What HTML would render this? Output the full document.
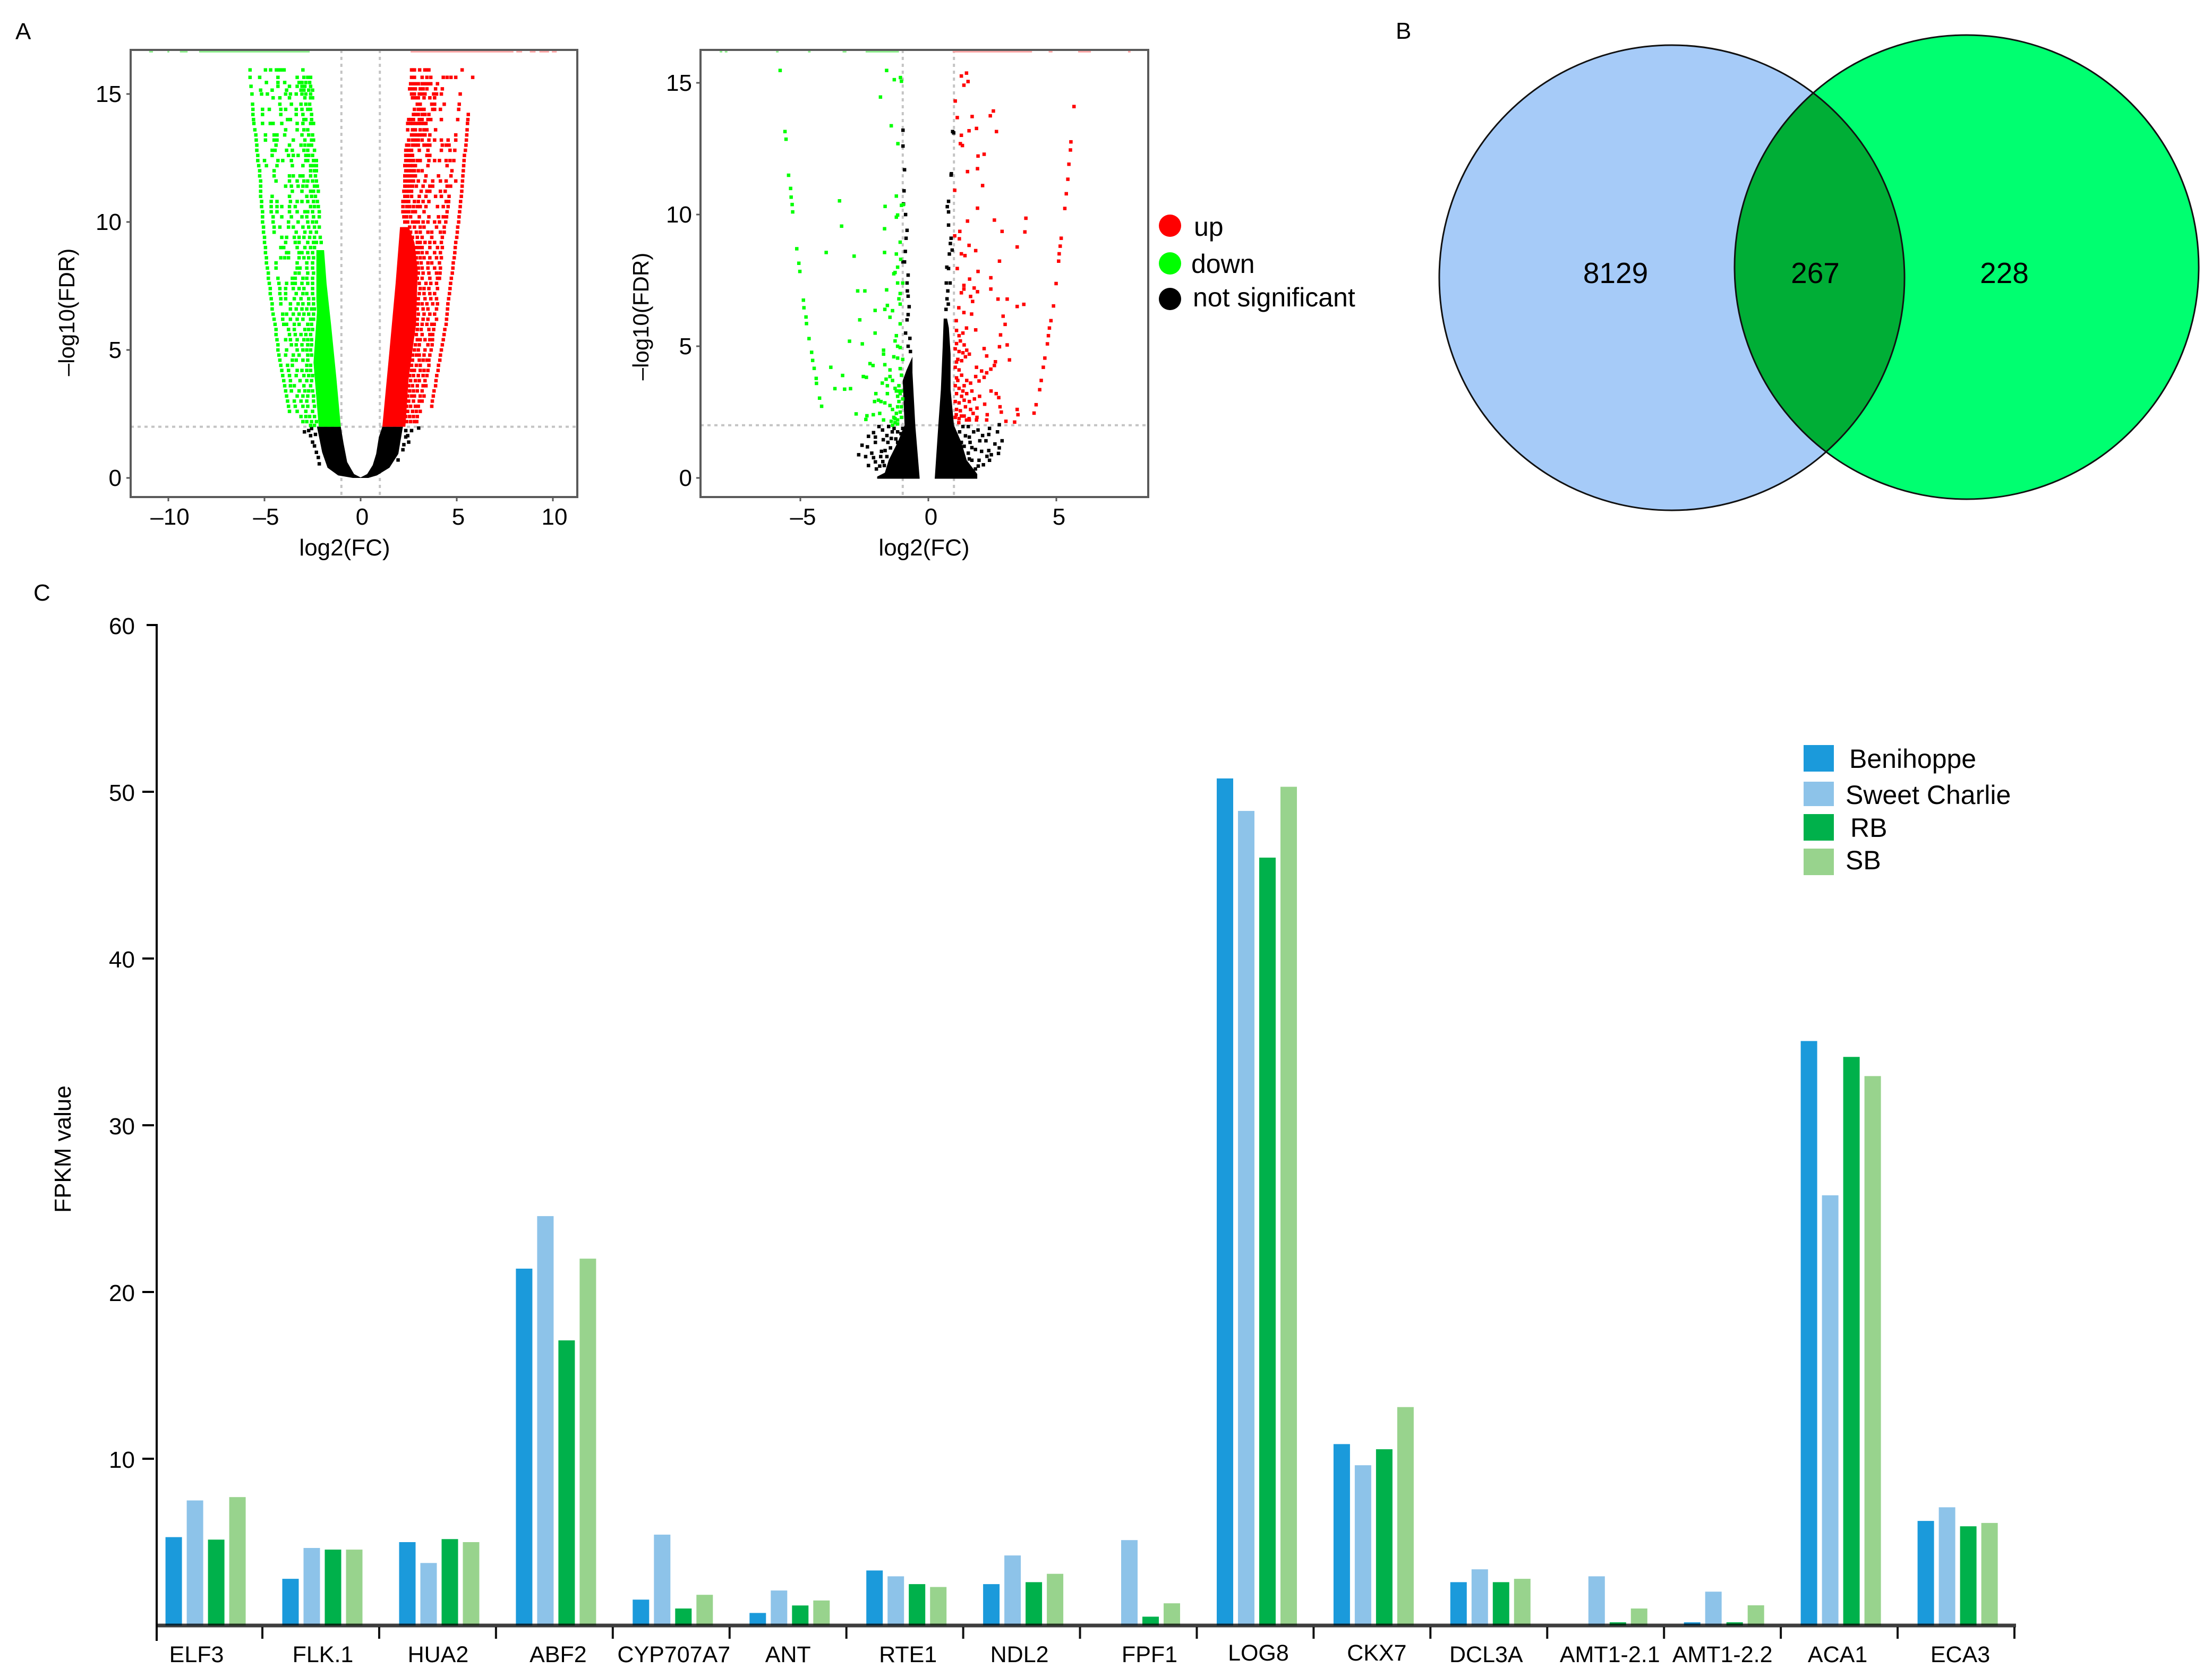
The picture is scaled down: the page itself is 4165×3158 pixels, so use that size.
<!DOCTYPE html>
<html lang="en">
<head>
<meta charset="utf-8">
<title>Volcano plots, Venn diagram and FPKM bar chart</title>
<style>
html,body{margin:0;padding:0;background:#fff;}
svg{display:block;font-family:"Liberation Sans",sans-serif;fill:#000;}
</style>
</head>
<body>
<svg id="fig" xmlns="http://www.w3.org/2000/svg" width="4165" height="3158" viewBox="0 0 4165 3158">
  <rect x="0" y="0" width="4165" height="3158" fill="#ffffff"/>
  <text x="29" y="74" font-size="44">A</text>
  <text x="2628" y="73" font-size="44">B</text>
  <text x="63" y="1131" font-size="44">C</text>

  <g id="volcanoLeft"></g>
  <g id="volcanoRight"></g>

  <g>
    <circle cx="2203" cy="425" r="21" fill="#ff0000"/>
    <text x="2248" y="444" font-size="50">up</text>
    <circle cx="2203" cy="496" r="21" fill="#00ff00"/>
    <text x="2243" y="514" font-size="50">down</text>
    <circle cx="2203" cy="563" r="21" fill="#000000"/>
    <text x="2246" y="577" font-size="50">not significant</text>
  </g>

  <g>
    <defs>
      <clipPath id="vennClip"><circle cx="3148" cy="523" r="438"/></clipPath>
    </defs>
    <circle cx="3148" cy="523" r="438" fill="#a6cbf8"/>
    <circle cx="3703" cy="503" r="437" fill="#00ff70"/>
    <circle cx="3703" cy="503" r="437" fill="#00ae36" clip-path="url(#vennClip)"/>
    <circle cx="3148" cy="523" r="438" fill="none" stroke="#111" stroke-width="3"/>
    <circle cx="3703" cy="503" r="437" fill="none" stroke="#111" stroke-width="3"/>
    <text x="3042" y="533" font-size="55" text-anchor="middle">8129</text>
    <text x="3418" y="533" font-size="55" text-anchor="middle">267</text>
    <text x="3774" y="533" font-size="55" text-anchor="middle">228</text>
  </g>

  <g id="barChart"></g>
</svg>

<script>
/* ---------- Bar chart data ---------- */
const barCategories = ["ELF3","FLK.1","HUA2","ABF2","CYP707A7","ANT","RTE1","NDL2","FPF1","LOG8","CKX7","DCL3A","AMT1-2.1","AMT1-2.2","ACA1","ECA3"];
const seriesNames = ["Benihoppe","Sweet Charlie","RB","SB"];
const benihoppeValues = [5.3,2.8,5.0,21.4,1.55,0.75,3.3,2.48,0,50.8,10.88,2.6,0,0.19,35.05,6.27];
const sweetCharlieValues = [7.5,4.65,3.75,24.55,5.45,2.1,2.95,4.2,5.12,48.85,9.61,3.37,2.95,2.03,25.8,7.09];
const rbValues = [5.15,4.55,5.18,17.1,1.02,1.2,2.48,2.6,0.53,46.05,10.57,2.6,0.19,0.19,34.1,5.95];
const sbValues = [7.7,4.55,5.0,22.0,1.84,1.5,2.31,3.1,1.33,50.3,13.1,2.8,1.02,1.21,32.95,6.15];
const barYTicks = [10,20,30,40,50,60];

/* ---------- Left volcano data (log2FC, -log10FDR) ---------- */
const leftXTicks = [-10,-5,0,5,10];
const leftYTicks = [0,5,10,15];
const leftBlackArea = [[-1.03,2],[-0.89,1.36],[-0.7,0.62],[-0.34,0.15],[0,0.02],[0.34,0.15],[0.63,0.5],[0.81,0.94],[0.95,1.6],[1.13,2],[2.2,2],[1.96,0.94],[1.5,0.4],[0.85,0.1],[0.4,0],[-0.4,0],[-1.17,0.1],[-1.72,0.4],[-2,1],[-2.27,2]];
const leftDownSolid = [[-1.03,2],[-1.26,3.9],[-1.54,6],[-1.77,7.6],[-1.9,8.9],[-2.3,8.9],[-2.3,7],[-2.27,6.5],[-2.45,4.5],[-2.18,2]];
const leftUpSolid = [[1.13,2],[1.5,4.96],[1.82,7.6],[2.05,9.8],[2.5,9.8],[2.8,9.2],[2.97,8.1],[2.88,6],[2.5,3.9],[2.33,2]];
/* rows of points: [-log10FDR, [log2FC, ...]] */
const leftDownRows = [
[15.94,[-5.75,-4.95,-4.68,-4.38,-4.28,-4.18,-4.08,-3.98,-3]],
[15.65,[-5.75,-5.25,-4.3,-3.3,-2.95,-2.75,-2.6]],
[15.45,[-4.9,-4.3,-3.95,-3.2,-3.05,-2.85,-2.65]],
[15.3,[-5.7,-4.3,-3.7,-3.3,-3.05,-2.9,-2.6]],
[15.15,[-5.2,-4.6,-3.85,-3.1,-2.95,-2.7,-2.5]],
[15,[-5.65,-5.15,-4.85,-3.9,-3.65,-3.35,-3.05,-2.85,-2.6]],
[14.85,[-4.55,-4.2,-3.7,-2.9,-2.6,-2.5]],
[14.6,[-5.62,-4.2,-3.6,-3.1,-2.85,-2.65]],
[14.4,[-5.6,-5.1,-4.75,-4.15,-3.9,-3.35,-3.05,-2.75,-2.6]],
[14.2,[-5.6,-5.1,-4.15,-3.35,-3,-2.55]],
[14,[-5.57,-3.8,-3.65,-2.95,-2.85,-2.55]],
[13.85,[-5.55,-5.1,-4.7,-4.55,-4.1,-3.3,-3,-2.6,-2.45]],
[13.6,[-5.5,-3.9,-3.3,-2.95,-2.75]],
[13.4,[-5.45,-4.95,-4.5,-4.35,-3.95,-3.05,-2.7,-2.5]],
[13.2,[-5.43,-4.95,-4.5,-4.35,-3.5,-2.9,-2.55,-2.45]],
[13,[-5.4,-4.4,-3.7,-3.1,-2.9,-2.7,-2.55]],
[12.8,[-5.4,-4.6,-4.45,-3.85,-3.55,-2.95,-2.75,-2.4]],
[12.6,[-5.35,-4.6,-3.75,-3.5,-3.25,-2.85,-2.7,-2.5]],
[12.4,[-5.35,-5,-4.3,-4.05,-3.6,-2.85,-2.75,-2.45,-2.3]],
[12.2,[-5.3,-4.9,-4.35,-3.55,-3,-2.6,-2.45,-2.3]],
[12,[-5.25,-4.5,-2.6,-2.4,-2.3]],
[11.8,[-5.25,-4.5,-3.7,-3.5,-3.15,-3,-2.6,-2.35]],
[11.6,[-5.2,-4.4,-3.7,-3.3,-2.95,-2.75,-2.5,-2.3]],
[11.4,[-5.2,-3.9,-3.6,-3.25,-3,-2.8,-2.4,-2.25]],
[11.2,[-5.2,-3.55,-3.05,-2.6,-2.45,-2.2]],
[11,[-5.2,-4.6,-3.7,-2.8,-2.55,-2.35]],
[10.8,[-5.15,-4.65,-4.35,-3.65,-3.3,-3.05,-2.75,-2.45,-2.25]],
[10.6,[-5.15,-4.65,-4.35,-4.1,-3.7,-3.4,-2.6,-2.4,-2.2]],
[10.4,[-5.1,-4.65,-4.35,-3.7,-3.3,-2.9,-2.75,-2.5,-2.15]],
[10.2,[-5.1,-4.55,-4.1,-3.6,-3.05,-2.8,-2.45,-2.15]],
[10,[-5.1,-4.55,-3.75,-3.25,-2.75,-2.5,-2.3]],
[9.8,[-5.05,-4.5,-4.2,-3.75,-3.5,-3,-2.7,-2.4,-2.15]],
[9.6,[-5.05,-4.5,-3.35,-2.9,-2.6,-2.3]],
[9.4,[-5,-4.1,-3.85,-3.45,-3.2,-2.95,-2.65,-2.4,-2.1]],
[9.2,[-5,-3.9,-3.4,-3.2,-2.75,-2.45,-2.3,-2.05]],
[9,[-4.95,-4.15,-4,-3.3,-2.9,-2.6,-2.4]],
[8.8,[-4.95,-3.85,-3.75,-3.2,-3.05,-2.75,-2.5]],
[8.6,[-4.9,-4.15,-3.95,-3.75,-3.2,-2.95,-2.7,-2.45]],
[8.4,[-4.9,-4.4,-3.3,-2.8,-2.5]],
[8.2,[-4.85,-4.4,-3.3,-3.15,-2.8,-2.5]],
[8,[-4.8,-3.4,-3.2,-2.75,-2.45]],
[7.8,[-4.8,-4.3,-3.55,-3.4,-3,-2.8,-2.5]],
[7.6,[-4.75,-4.25,-3.85,-3.55,-3.4,-3.05,-2.75,-2.5]],
[7.4,[-4.7,-4.2,-3.9,-3.5,-3.2,-2.95,-2.5]],
[7.2,[-4.7,-4.2,-3.9,-3.35,-3,-2.8,-2.5]],
[7,[-4.65,-4.15,-3.9,-3.45,-3.1,-2.7,-2.45]],
[6.8,[-4.6,-4.15,-3.65,-3.25,-3,-2.7,-2.45]],
[6.6,[-4.6,-3.65,-3.35,-3.05,-2.8,-2.55,-2.4]],
[6.4,[-4.55,-4.05,-3.85,-3.5,-3.2,-2.95,-2.7,-2.45]],
[6.2,[-4.5,-4.05,-3.65,-3.3,-3,-2.6,-2.45]],
[6,[-4.45,-4,-3.85,-3.45,-3.2,-2.75,-2.55]],
[5.8,[-4.4,-3.75,-3.45,-2.9,-2.7,-2.5]],
[5.6,[-4.4,-3.7,-3.4,-3.1,-2.85,-2.6]],
[5.4,[-4.35,-3.9,-3.65,-3.3,-2.95,-2.75,-2.55]],
[5.2,[-4.3,-3.6,-3.35,-3.05,-2.75,-2.55]],
[5,[-4.3,-3.85,-3.3,-3,-2.8,-2.6]],
[4.8,[-4.25,-3.9,-3.5,-3.2,-2.75,-2.55]],
[4.6,[-4.2,-3.55,-3.35,-3,-2.75]],
[4.4,[-4.15,-3.8,-3.55,-2.8,-2.6]],
[4.2,[-4.1,-3.75,-3.3,-3.05,-2.8,-2.6]],
[4,[-4.05,-3.7,-3.35,-2.95,-2.7,-2.5]],
[3.8,[-4,-3.65,-3.15,-2.8,-2.55]],
[3.6,[-3.95,-3.65,-3.45,-2.95,-2.6]],
[3.4,[-3.9,-3.6,-3.2,-2.9,-2.7,-2.5]],
[3.2,[-3.85,-3.3,-3,-2.75,-2.45]],
[3,[-3.8,-3.45,-3.1,-2.8,-2.45]],
[2.8,[-3.75,-3.4,-3,-2.75,-2.4]],
[2.6,[-3.7,-3.3,-2.85,-2.5]],
[2.4,[-3.1,-2.85,-2.65,-2.4]],
[2.2,[-3,-2.8,-2.55,-2.3]],
[2.05,[-2.6,-2.4]]];
const leftUpRows = [
[15.94,[2.65,2.72,2.8,3.07,3.34,3.45,3.55,5.28]],
[15.65,[2.65,2.8,3.2,3.45,3.65,4.3,4.5,4.7,4.95,5.83]],
[15.4,[2.6,2.75,2.9,3,3.2,3.35,3.5,3.65,4]],
[15.2,[2.55,2.7,2.85,3.1,3.25,3.45,3.9,4.25]],
[15,[2.65,2.8,3.05,3.2,3.35,3.8,3.95,4.2,5.18]],
[14.85,[2.7,2.85,3,3.3,3.6,3.85]],
[14.6,[2.95,3.1,3.7,3.85,4.35,5.13]],
[14.4,[2.8,3,3.15,3.3,3.75,3.85,4.15,5.1]],
[14.2,[2.75,2.85,3,3.2,3.35,3.55,5.6]],
[14,[2.5,2.6,2.75,3.05,3.2,3.5,3.65,4.2,5.05,5.58]],
[13.85,[2.45,2.6,2.7,2.85,3,3.15,3.3,3.4,5.56]],
[13.6,[2.45,2.7,2.85,3.1,3.3,3.45,3.9,5.54]],
[13.4,[2.65,2.8,2.95,3.05,3.2,3.35,3.6,4.95,5.52]],
[13.2,[2.5,2.7,2.85,3,3.2,3.55,3.85,4.2,4.55,4.95,5.5]],
[13,[2.4,2.5,2.7,2.85,3,3.3,3.45,3.6,4.25,4.45,4.6,5.48]],
[12.8,[2.35,2.5,2.65,3.05,3.5,4.2,4.65,4.9,5.45]],
[12.6,[2.35,2.45,2.55,2.7,3.45,3.6,5.4]],
[12.4,[2.35,2.5,2.6,2.75,2.95,3.1,3.55,3.85,4.1,4.45,4.65,4.85,5.38]],
[12.2,[2.3,2.45,2.6,2.7,2.85,3.5,4.5,5.36]],
[12,[2.35,2.5,2.65,2.8,3,3.2,4.75,5.34]],
[11.8,[2.3,2.4,2.55,2.7,2.85,3.4,4.05,4.7,5.32]],
[11.6,[2.3,2.45,2.6,2.75,3,3.35,3.75,4.15,4.45,4.95,5.3]],
[11.4,[2.3,2.4,2.55,2.7,2.9,3.25,3.6,3.75,4.5,4.68,5.28]],
[11.2,[2.25,2.4,2.5,2.65,3.15,3.45,3.6,4.15,4.4,5.26]],
[11,[2.3,2.45,2.65,3.05,3.4,3.9,4.2,4.6,5.24]],
[10.8,[2.2,2.35,2.5,2.8,3,3.25,3.55,4.45,4.58,5.2]],
[10.6,[2.2,2.4,2.55,2.75,2.95,3.1,3.4,4,4.3,4.55,5.18]],
[10.4,[2.2,2.35,2.5,2.7,2.85,3.3,4.5,5.15]],
[10.2,[2.25,2.4,2.6,3.05,3.55,4.05,4.3,4.47,5.12]],
[10,[2.3,2.45,2.7,2.85,3,3.25,3.5,3.85,4.1,4.43,5.1]],
[9.8,[2.55,2.8,3.1,3.3,3.95,4.35,5.05]],
[9.6,[2.6,2.9,3.1,3.5,3.7,4.15,4.35,5.03]],
[9.4,[2.7,2.95,3.2,3.7,4.25,5]],
[9.2,[2.95,3.1,3.35,3.6,3.85,4.2,4.95]],
[9,[2.9,3.05,3.2,3.6,4,4.25,4.92]],
[8.8,[2.85,3,3.2,3.45,3.85,4.15,4.9]],
[8.6,[2.9,3.1,3.3,3.6,3.95,4.2,4.87]],
[8.4,[2.95,3.15,3.5,3.7,4.1,4.82]],
[8.2,[3,3.2,3.5,3.85,4.15,4.8]],
[8,[3,3.25,3.55,3.95,4.13,4.77]],
[7.8,[2.95,3.2,3.6,4,4.1,4.72]],
[7.6,[3.05,3.4,3.65,3.95,4.68]],
[7.4,[3.1,3.3,3.55,4,4.65]],
[7.2,[3.05,3.3,3.6,3.85,4.62]],
[7,[3,3.35,3.65,3.95,4.58]],
[6.8,[3,3.2,3.45,3.75,4,4.54]],
[6.6,[2.95,3.25,3.5,3.95,4.52]],
[6.4,[3,3.3,3.6,3.85,4.5]],
[6.2,[2.95,3.25,3.5,3.95,4.47]],
[6,[2.95,3.2,3.45,3.7,3.83,4.45]],
[5.8,[2.95,3.15,3.55,3.8,4.38]],
[5.6,[2.9,3.2,3.6,3.75,4.34]],
[5.4,[2.95,3.1,3.35,3.6,3.74,4.3]],
[5.2,[2.85,3.05,3.5,3.72,4.25]],
[5,[2.8,3,3.35,3.67,4.2]],
[4.8,[2.7,2.9,3.05,3.3,3.6,4.15]],
[4.6,[2.7,3.05,3.25,3.45,3.55,4.12]],
[4.4,[2.65,2.9,3.1,3.55,4.05]],
[4.2,[2.65,2.8,3.1,3.3,3.5,4.03]],
[4,[2.55,2.75,3,3.25,3.45,3.96]],
[3.8,[2.6,2.85,3.05,3.35,3.92]],
[3.6,[2.5,2.7,2.95,3.25,3.4,3.9]],
[3.4,[2.55,2.75,2.95,3.2,3.82]],
[3.2,[2.45,2.65,2.8,3.1,3.3,3.78]],
[3,[2.5,2.75,3.05,3.2,3.73]],
[2.8,[2.4,2.6,2.85,3,3.7]],
[2.6,[2.45,2.7,2.9,3.1]],
[2.4,[2.35,2.55,2.75,2.95]],
[2.2,[2.4,2.6,2.8,2.92]]];
const leftBlackPoints = [[-2.92,1.8],[-2.7,1.85],[-2.6,1.65],[-2.5,1.4],[-2.4,1.25],[-2.3,1],[-2.2,0.8],[-2.55,1.93],[-2.35,1.7],[-2.15,0.55],[3.02,1.95],[2.65,1.85],[2.5,1.4],[2.35,1.85],[2.35,1.6],[2.25,1.3],[2.2,1.1],[1.95,0.7],[2.45,1.65]];
const leftTopDownSpans = [[-11,-10.8],[-10.05,-9.95],[-9.4,-9],[-8.4,-2.65]];
const leftTopUpSpans = [[2.6,7.95],[8.1,8.4],[8.8,9.1],[9.3,9.8],[9.95,10.2]];

/* ---------- Right volcano data (log2FC, -log10FDR) ---------- */
const rightXTicks = [-5,0,5];
const rightYTicks = [0,5,10,15];
const rightBlackArea = [[-0.34,0],[-0.51,2],[-0.62,4],[-0.62,4.6],[-0.85,4.1],[-1,3.7],[-0.93,2],[-1.2,1.35],[-1.55,0.67],[-1.7,0.2],[-2,0.05],[-2,-0.03],[-0.34,-0.03]];
const rightBlackAreaRight = [[0.25,-0.03],[0.39,2],[0.49,3.36],[0.56,5],[0.6,6.05],[0.73,6.05],[0.8,5.7],[0.87,4.7],[0.87,3.36],[1,2],[1.29,1.35],[1.5,0.67],[1.91,0.15],[1.91,-0.03]];
const rightDownPoints = [[-5.79,15.47],[-5.6,13.15],[-5.56,12.86],[-5.46,11.49],[-5.38,10.99],[-5.36,10.66],[-5.32,10.38],[-5.3,10.1],[-5.14,8.7],[-5.06,8.15],[-5.02,7.84],[-4.88,6.75],[-4.86,6.46],[-4.78,6.11],[-4.76,5.86],[-4.66,5.29],[-4.56,4.77],[-4.52,4.46],[-4.46,4.16],[-4.38,3.78],[-4.37,3.59],[-4.25,3.03],[-4.17,2.72],
[-3.47,10.52],[-3.39,9.56],[-3.99,8.56],[-2.9,8.42],[-2.76,7.1],[-2.48,7.1],[-2.68,6],[-3.08,5.19],[-2.58,5.09],[-3.81,4.2],[-3.35,3.89],[-3.65,3.39],[-3.27,3.37],[-3.04,3.39],[-2.82,2.43],[-2.4,2.36],[-2.44,2.22],[-2.54,3.85],[-2.42,3.82],[-2.28,4.34],[-2.16,4.27],[-2.08,5.5],[-2.08,6.36],[-1.69,10.31],[-1.71,9.46],[-1.71,8.56],[-1.63,7.14],[-1.87,14.46],[-1.63,15.47],[-1.33,15.12],[-1.09,15.2],[-1.05,15.06],[-1.45,13.37],[-1.19,12.69],
[-1.25,10.7],[-1.05,10.35],[-0.98,10.38],[-1.2,9.98],[-1.25,9.9],[-1.1,8.95],[-1.25,8.5],[-1.08,8.3],[-1.2,8],[-1.3,7.8],[-1.35,7.75],[-1,7.4],[-1.2,7.4],[-1.1,7],[-1.15,6.8],[-1.1,6.6],[-1.6,6.55],[-1.7,6.4],[-1.4,6.35],[-1.5,6.1],[-1.1,5.85],[-1.25,5.4],[-1.3,5.2],[-1.2,5],[-1.1,4.95],[-1.75,4.85],[-1.75,4.7],[-1.35,4.6],[-1.2,4.55],[-1,4.5],[-1.7,4.3],[-1.5,4.1],[-1.1,4.15],[-1.05,3.9],[-1.65,3.75],[-1.5,3.85],[-1.4,3.7],[-1.8,3.6],[-1.6,3.5],[-1.3,3.4],[-1.15,3.5],[-1.05,3.3],[-1.2,3.1],[-1,3],[-1.6,3.2],[-2.05,3.2],[-1.95,2.95],[-2.1,2.9],[-1.85,2.9],[-1.7,2.85],[-1.5,2.75],[-1.4,2.6],[-1.2,2.7],[-1.1,2.5],[-1.9,2.45],[-2.15,2.4],[-1.75,2.2],[-1.45,2.15],[-1.3,2.1],[-1.2,2.2],[-1.05,2.3],[-1.4,2],[-1.35,2.3],[-1.25,2.45],[-1.15,2.9],[-1.1,3.2],[-1.25,3.3],[-1.2,2.05],[-1.3,2.25],[-1.05,2.7],[-1.15,3.3]];
const rightUpPoints = [[1.29,15.26],[1.49,15.37],[1.55,15.05],[1.39,14.91],[1.05,14.31],[1.13,13.68],[1.71,13.72],[2.42,13.75],[2.54,13.93],[2.66,13.15],[1.59,13.18],[1.88,13.27],[1.29,13.01],[1.25,12.69],[1.33,12.62],[1.94,12.22],[2.18,12.29],[1.92,11.74],[1.53,11.63],[2.12,11.1],[1.03,10.92],[1.92,10.24],[2.58,9.79],[3.81,9.86],[1.53,9.75],[2.88,9.36],[3.77,9.34],[1.23,9.36],[1.03,9.19],[1.21,9.08],[1.59,8.83],[3.47,8.77],[1.85,8.63],[1.29,8.51],[1.43,8.44],[2.78,8.23],[1.13,7.95],[1.94,7.84],[2.44,7.6],[1.61,7.55],[1.39,7.31],[1.39,7.17],[1.79,7.21],[1.92,7.07],[2.44,7.17],[1.29,7.03],[1.65,6.89],[2.72,6.79],[3.08,6.79],[1.73,6.7],[3.47,6.51],[3.73,6.59],[1.19,6.46],[1.39,6.28],[1.69,6.22],[2.92,6.14],[3,5.83],[1.09,5.97],[1.49,5.69],[1.85,5.62],[2.82,5.43],[3.08,5.05],[2.78,4.98],[2.18,4.91],[2.28,4.63],[3.17,4.48],[2.62,4.41],[2.58,4.27],[1.88,4.2],[2.44,4.13],[2.08,4.06],[2.28,3.99],[1.85,3.85],[1.98,3.68],[2.18,3.82],
[1.1,5.6],[1.2,5.4],[1.35,5.5],[1.1,5.1],[1.25,5.2],[1.4,5.05],[1.05,4.9],[1.2,4.8],[1.35,4.75],[1.5,4.85],[1.6,4.7],[1.15,4.5],[1.3,4.45],[1.45,4.6],[1.05,4.2],[1.2,4.1],[1.1,3.8],[1.3,3.9],[1.5,3.7],[1.05,3.5],[1.2,3.4],[1.4,3.5],[1.1,3.2],[1.3,3.1],[1.5,3.2],[1.7,3.3],[1.05,2.9],[1.2,2.85],[1.4,2.95],[1.6,2.9],[1.8,3],[2,3.1],[2.45,3.3],[2.65,3.2],[2.75,3.05],[1.1,2.6],[1.25,2.55],[1.45,2.7],[1.65,2.6],[1.9,2.65],[2.2,2.8],[2.8,2.7],[1.05,2.3],[1.2,2.25],[1.4,2.35],[1.6,2.2],[1.9,2.3],[2.3,2.4],[2.85,2.5],[3.47,2.6],[3.5,2.4],[3.37,2.12],[3.03,2.15],[2.28,2.2],[1.88,2.2],[1.49,2.2],[1.19,2.1],[1.09,2.4],[1.29,2.35],[1.59,2.25],[1.15,3.7],[1.35,3.3],[1.1,4.4],[1.65,3.6],[1.75,2.45],
[5.69,14.1],[5.57,12.76],[5.55,12.45],[5.49,11.91],[5.45,11.34],[5.39,10.79],[5.33,10.23],[5.19,9.1],[5.15,8.8],[5.11,8.51],[5.09,8.23],[4.99,7.38],[4.89,6.53],[4.79,5.97],[4.73,5.69],[4.69,5.4],[4.65,5.09],[4.55,4.55],[4.49,4.2],[4.41,3.7],[4.35,3.35],[4.21,2.78],[4.13,2.46]];
const rightBlackPoints = [[-0.99,13.2],[-0.99,12.6],[-0.93,11.7],[-0.95,10.9],[-0.97,10.4],[-0.89,10],[-0.83,9.4],[-0.93,8.2],[-0.99,8.2],[-0.79,7.7],[-0.83,7.4],[-0.79,6.9],[-0.79,6.2],[-0.83,6],[-0.89,5.5],[-0.79,5],[-0.7,4.8],[-0.72,5.3],[-0.75,6.5],[-0.82,7.1],[-0.9,8.6],[-0.87,9.1],
[0.99,13.1],[0.89,11.5],[0.79,10.5],[0.79,10.1],[0.79,9.6],[0.89,9.1],[0.93,8.65],[0.79,7.95],[0.85,7.4],[0.73,6.8],[0.69,6.4],[0.95,13.15],[0.9,11.55],[0.72,8],[0.76,7.1],[0.82,8.5],[0.86,8.9],[0.74,10.3],[0.78,6.6],[0.7,7.4],
[-1.93,1.95],[-1.55,1.95],[-2.14,1.72],[-1.79,1.82],[-2.34,1.58],[-2.07,1.55],[-2.07,1.35],[-1.76,1.45],[-2.59,1.24],[-2.38,1.18],[-2.72,0.88],[-2.45,0.81],[-2.21,0.94],[-2.14,0.77],[-1.83,1.01],[-1.86,0.81],[-2.07,0.61],[-2.34,0.47],[-2.03,0.34],[-1.62,1.61],[-1.58,1.35],[-1.41,1.75],[-1.27,1.48],[-1.69,1.04],[-1.48,1.14],[-1.62,0.81],[-1.34,0.88],[-1.72,0.47],[-1.2,1.35],[-1.07,1.68],[-1,1.88],[-1.34,1.88],[-1.45,1.5],[-1.9,0.45],[-1.78,0.62],[-1.2,1.75],
[2.77,2.02],[2.39,1.88],[2.7,1.75],[1.94,1.82],[2.12,1.61],[2.36,1.65],[2.01,1.41],[2.25,1.41],[2.88,1.41],[2.6,1.29],[2.77,1.14],[1.84,1.08],[2.08,1.01],[2.36,1.04],[2.46,0.88],[2.29,0.82],[2.74,0.93],[2.39,0.67],[1.98,0.67],[2.15,0.5],[1.6,1.55],[1.35,1.95],[1.56,1.95],[1.77,1.75],[1.29,1.35],[1.63,1.35],[1.56,0.94],[1.7,0.67],[1.84,0.34],[1.22,1.75],[1.45,1.6],[1.7,1.15],[1.95,0.45],[1.4,1.2],[1.6,0.72]];
const rightTopDownSpans = [[-8.15,-8.05],[-7.95,-7.85],[-5.95,-5.85],[-4.7,-4.6],[-3.35,-3.2],[-2.45,-1.15]];
const rightTopUpSpans = [[0.95,4.05],[4.7,4.85],[5.85,6.35],[7.8,7.9]];

/* ---------- Drawing helpers ---------- */
const NS = "http://www.w3.org/2000/svg";
function mk(tag, attrs, parent, text) {
  const node = document.createElementNS(NS, tag);
  for (const k in attrs) node.setAttribute(k, attrs[k]);
  if (text !== undefined) node.textContent = text;
  parent.appendChild(node);
  return node;
}
function tickText(v) { return String(v).replace("-", "\u2013"); }
function polyPoints(area, sx, sy) { return area.map(p => sx(p[0]).toFixed(1) + "," + sy(p[1]).toFixed(1)).join(" "); }
function rowsToPoints(rows) {
  const out = [];
  rows.forEach(r => r[1].forEach(x => out.push([x, r[0]])));
  return out;
}

function drawVolcano(cfg) {
  const g = cfg.root, sx = cfg.sx, sy = cfg.sy;
  let el;
  const f = cfg.frame;
  const h = sy(2), vl = sx(-1), vr = sx(1);
  const s = cfg.size;
  [[vl, f.top, vl, f.bottom], [vr, f.top, vr, f.bottom], [f.left, h, f.right, h]].forEach(c => {
    el = mk("line", {x1:c[0], y1:c[1], x2:c[2], y2:c[3], stroke:"#c4c4c4", "stroke-width":4, "stroke-dasharray":"6 7"}, g);
    
    
  });
  cfg.blackAreas.forEach(a => {
    el = mk("polygon", {points:polyPoints(a, sx, sy), fill:"#000"}, g);
    
    
  });
  cfg.downSolid.forEach(a => {
    el = mk("polygon", {points:polyPoints(a, sx, sy), fill:"#00ff00"}, g);
    
    
  });
  cfg.upSolid.forEach(a => {
    el = mk("polygon", {points:polyPoints(a, sx, sy), fill:"#ff0000"}, g);
    
    
  });
  cfg.blackPoints.forEach(p => {
    el = mk("rect", {x:(sx(p[0])-s/2).toFixed(1), y:(sy(p[1])-s/2).toFixed(1), width:s, height:s, fill:"#000"}, g);
    
    
  });
  cfg.downPoints.forEach(p => {
    el = mk("rect", {x:(sx(p[0])-s/2).toFixed(1), y:(sy(p[1])-s/2).toFixed(1), width:s, height:s, fill:"#00ff00"}, g);
    
    
  });
  cfg.upPoints.forEach(p => {
    el = mk("rect", {x:(sx(p[0])-s/2).toFixed(1), y:(sy(p[1])-s/2).toFixed(1), width:s, height:s, fill:"#ff0000"}, g);
    
    
  });
  cfg.topDown.forEach(sp => {
    el = mk("line", {x1:sx(sp[0]), x2:sx(sp[1]), y1:f.top+2, y2:f.top+2, stroke:"#90f090", "stroke-width":6}, g);
    
    
  });
  cfg.topUp.forEach(sp => {
    el = mk("line", {x1:sx(sp[0]), x2:sx(sp[1]), y1:f.top+2, y2:f.top+2, stroke:"#ffaaaa", "stroke-width":6}, g);
    
    
  });
  el = mk("rect", {x:f.left, y:f.top, width:f.right-f.left, height:f.bottom-f.top, fill:"none", stroke:"#5a5a5a", "stroke-width":4}, g);
  
  
  cfg.xTicks.forEach(t => {
    el = mk("line", {x1:sx(t), x2:sx(t), y1:f.bottom, y2:f.bottom+8, stroke:"#5a5a5a", "stroke-width":3}, g);
    
    
    el = mk("text", {x:sx(t)+cfg.xLabelShift, y:988, "font-size":44, "text-anchor":"middle"}, g, tickText(t));
    
    
  });
  cfg.yTicks.forEach(t => {
    el = mk("line", {x1:f.left-8, x2:f.left, y1:sy(t), y2:sy(t), stroke:"#5a5a5a", "stroke-width":3}, g);
    
    
    el = mk("text", {x:cfg.yLabelX, y:sy(t)+15, "font-size":44, "text-anchor":"end"}, g, tickText(t));
    
    
  });
  el = mk("text", {x:cfg.xTitleX, y:1046, "font-size":44, "text-anchor":"middle"}, g, "log2(FC)");
  
  
  el = mk("text", {transform:"translate(" + cfg.yTitle[0] + "," + cfg.yTitle[1] + ") rotate(-90)", "font-size":42, "text-anchor":"middle"}, g, "\u2013log10(FDR)");
  
  
}

drawVolcano({
  root: document.getElementById("volcanoLeft"),
  sx: v => 679 + 36.2 * v, sy: v => 900 - 48.2 * v,
  frame: {left:246, right:1087, top:94, bottom:936},
  size: 6.5, xTicks: leftXTicks, yTicks: leftYTicks, xLabelShift: 3, yLabelX: 229, xTitleX: 649, yTitle: [140, 588],
  blackAreas: [leftBlackArea], downSolid: [leftDownSolid], upSolid: [leftUpSolid],
  blackPoints: leftBlackPoints, downPoints: rowsToPoints(leftDownRows), upPoints: rowsToPoints(leftUpRows),
  topDown: leftTopDownSpans, topUp: leftTopUpSpans
});
drawVolcano({
  root: document.getElementById("volcanoRight"),
  sx: v => 1748 + 48.2 * v, sy: v => 900 - 49.6 * v,
  frame: {left:1319, right:2162, top:94, bottom:936},
  size: 6.5, xTicks: rightXTicks, yTicks: rightYTicks, xLabelShift: 5, yLabelX: 1303, xTitleX: 1740, yTitle: [1221, 596],
  blackAreas: [rightBlackArea, rightBlackAreaRight], downSolid: [], upSolid: [],
  blackPoints: rightBlackPoints, downPoints: rightDownPoints, upPoints: rightUpPoints,
  topDown: rightTopDownSpans, topUp: rightTopUpSpans
});

/* ---------- Bar chart ---------- */
(function () {
  const g = document.getElementById("barChart");
  const seriesValues = [benihoppeValues, sweetCharlieValues, rbValues, sbValues];
  const seriesColors = ["#1b9adb", "#8dc3e9", "#00b14b", "#98d38d"];
  const y0 = 3061, unit = 31.4, bandStart = 274.1, bandW = 219.93;
  const labelNudge = [-14,4,1,7,5,0,6,-4,21,6,9,-5,8,0,-3,8];
  const labelLift = [0,0,0,0,0,0,0,0,0,3,3,0,0,0,0,0];
  const sy = v => y0 - unit * v;
  const bandX = i => bandStart + bandW * i;
  let el;
  barCategories.forEach((c, i) => {
    seriesValues.forEach((vals, j) => {
      el = mk("rect", {x:(bandX(i) + 37.5 + 40 * j).toFixed(1), y:sy(vals[i]).toFixed(1), width:31, height:Math.max(0, unit * vals[i]).toFixed(1), fill:seriesColors[j]}, g);
      
      
    });
    el = mk("line", {x1:bandX(i+1), x2:bandX(i+1), y1:y0+3, y2:3086, stroke:"#111", "stroke-width":4}, g);
    
    
    el = mk("text", {x:bandX(i) + bandW / 2 + labelNudge[i], y:3130 - labelLift[i], "font-size":43, "text-anchor":"middle"}, g, c);
    
    
  });
  el = mk("line", {x1:295, x2:3796, y1:y0, y2:y0, stroke:"#000", "stroke-opacity":0.76, "stroke-width":7}, g);
  
  
  el = mk("line", {x1:295, x2:295, y1:sy(60)-2, y2:3090, stroke:"#000", "stroke-width":4}, g);
  
  
  barYTicks.forEach(t => {
    el = mk("line", {x1:t === 60 ? 276 : 268, x2:t === 60 ? 295 : 290, y1:sy(t), y2:sy(t), stroke:"#000", "stroke-width":4}, g);
    
    
    el = mk("text", {x:254, y:sy(t) + 17, "font-size":44, "text-anchor":"end"}, g, String(t));
    
    
  });
  el = mk("text", {transform:"translate(133,2164) rotate(-90)", "font-size":44, "text-anchor":"middle"}, g, "FPKM value");
  
  

  const legendSwatchTop = [1403, 1472, 1533, 1598];
  const legendSwatchH = [50, 46, 50, 50];
  const legendTextX = [3482, 3475, 3484, 3475];
  const legendBaseline = [1446, 1514, 1576, 1637];
  seriesNames.forEach((name, j) => {
    el = mk("rect", {x:3396, y:legendSwatchTop[j], width:57, height:legendSwatchH[j], fill:seriesColors[j]}, g);
    
    
    el = mk("text", {x:legendTextX[j], y:legendBaseline[j], "font-size":50}, g, name);
    
    
  });
})();
</script>
</body>
</html>
